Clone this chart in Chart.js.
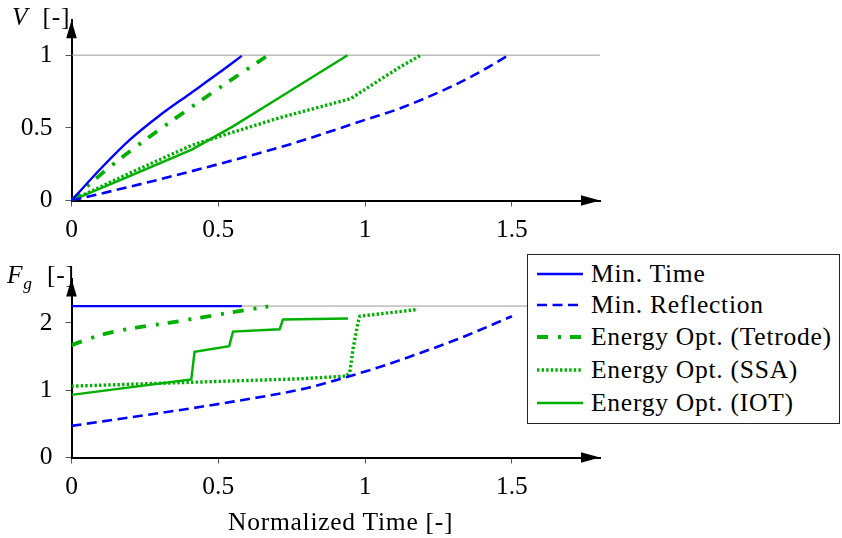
<!DOCTYPE html>
<html lang="en">
  <head>
    <meta charset="UTF-8" />
    <title>Normalized Time - V and Fg</title>
    <script src="https://cdn.jsdelivr.net/npm/chart.js"></script>
    <style>
      html, body { margin: 0; padding: 0; background: #fff; }
      body { width: 842px; height: 538px; position: relative; overflow: hidden; color: #000; }
      canvas { position: absolute; left: 0; }
      #topChart { top: -8px; }
      #bottomChart { top: 250px; }
      .label { position: absolute; line-height: 1; white-space: nowrap; letter-spacing: 0.75px; }
      #legend { position: absolute; left: 527px; top: 254px; width: 311px; height: 168px; border: 1px solid #222; background: #fff; }
      .row { position: absolute; left: 0; height: 32px; display: flex; align-items: center; letter-spacing: 0.75px; white-space: nowrap; }
      .row svg { margin-left: 9px; margin-right: 8px; flex: none; }
    </style>
  </head>
  <body>
    <canvas id="topChart" width="842" height="258"></canvas>
    <canvas id="bottomChart" width="842" height="288"></canvas>

    <div class="label" style="left:12px; top:4px;"><i>V</i>&nbsp;&nbsp;[-]</div>
    <div class="label" style="left:7px; top:262px;"><i>F<sub style="font-size:0.68em;">g</sub></i>&nbsp;&nbsp;[-]</div>
    <div class="label" id="xTitle" style="left:228px; top:509px;">Normalized Time [-]</div>

    <div id="legend"></div>

    <script>
      // x ticks shared by both panels
      const timeTicks = [0, 0.5, 1, 1.5];
      const vTicks = [0, 0.5, 1];
      const fgTicks = [0, 1, 2];

      // reference lines (grey)
      const limitTime = [0, 1.8];
      const vLimit = [1, 1];
      const fgLimit = [2.25, 2.25];

      // V [-]
      const vMinTimeT = [0, 0.1, 0.2, 0.3, 0.4, 0.5, 0.58];
      const vMinTime = [0, 0.22, 0.42, 0.585, 0.73, 0.875, 0.995];
      const vMinReflT = [0, 0.25, 0.5, 0.75, 1.0, 1.1, 1.2, 1.3, 1.4, 1.48];
      const vMinRefl = [0, 0.12, 0.25, 0.39, 0.555, 0.62, 0.7, 0.79, 0.895, 0.99];
      const vTetrodeT = [0, 0.1, 0.2, 0.35, 0.5, 0.67];
      const vTetrode = [0, 0.18, 0.34, 0.56, 0.77, 1.0];
      const vSsaT = [0, 0.2, 0.41, 0.55, 0.71, 0.95, 1.05, 1.12, 1.19];
      const vSsa = [0, 0.19, 0.38, 0.47, 0.57, 0.7, 0.83, 0.92, 1.0];
      const vIotT = [0, 0.2, 0.41, 0.55, 0.71, 0.94];
      const vIot = [0, 0.17, 0.35, 0.51, 0.71, 1.0];

      // F_g [-]
      const fgMinTimeT = [0, 0.58];
      const fgMinTime = [2.25, 2.25];
      const fgMinReflT = [0, 0.33, 0.55, 0.8, 0.925, 1.06, 1.23, 1.35, 1.5];
      const fgMinRefl = [0.47, 0.68, 0.83, 1.03, 1.18, 1.36, 1.62, 1.82, 2.1];
      const fgTetrodeT = [0, 0.1, 0.22, 0.33, 0.44, 0.55, 0.67];
      const fgTetrode = [1.67, 1.82, 1.93, 2.0, 2.08, 2.16, 2.245];
      const fgSsaT = [0, 0.78, 0.937, 0.948, 0.959, 0.976, 0.982, 1.18];
      const fgSsa = [1.06, 1.17, 1.21, 1.27, 1.62, 2.01, 2.1, 2.2];
      const fgIotT = [0, 0.408, 0.419, 0.537, 0.55, 0.709, 0.72, 0.942];
      const fgIot = [0.93, 1.16, 1.57, 1.655, 1.87, 1.905, 2.05, 2.065];

      const BLUE = "#0000ff";
      const GREEN = "#00b000";

      const styles = [
        { label: "Min. Time", color: BLUE, width: 2.4, dash: [], smooth: true },
        { label: "Min. Reflection", color: BLUE, width: 2.6, dash: [10, 5.5], smooth: true },
        { label: "Energy Opt. (Tetrode)", color: GREEN, width: 3.8, dash: [11, 10, 3, 9], smooth: true },
        { label: "Energy Opt. (SSA)", color: GREEN, width: 3.4, dash: [2.4, 2.2], smooth: false },
        { label: "Energy Opt. (IOT)", color: GREEN, width: 2.4, dash: [], smooth: false },
      ];

      // pick a serif face that is really installed, and size it like the original
      function pickFont() {
        const c = document.createElement("canvas").getContext("2d");
        const probe = "Energy Opt. (Tetrode)";
        const faces = ["Liberation Serif", "Times New Roman", "Tinos", "DejaVu Serif"];
        for (const f of faces) {
          c.font = "25px monospace";
          const a = c.measureText(probe).width;
          c.font = "25px '" + f + "', monospace";
          const b = c.measureText(probe).width;
          if (Math.abs(a - b) > 0.5) return { family: "'" + f + "', serif", size: Math.round((25 * 223) / b * 2) / 2 };
        }
        return { family: "serif", size: 24 };
      }
      const font = pickFont();
      document.body.style.fontFamily = font.family;
      document.body.style.fontSize = font.size + "px";

      const pts = (t, v) => t.map((x, i) => ({ x: x, y: v[i] }));

      function buildSets(series, limit) {
        const sets = series.map((s, i) => ({
          label: styles[i].label,
          data: pts(s[0], s[1]),
          borderColor: styles[i].color,
          borderWidth: styles[i].width,
          borderDash: styles[i].dash,
          borderCapStyle: "butt",
          cubicInterpolationMode: styles[i].smooth ? "monotone" : "default",
          pointRadius: 0,
          tension: 0,
          fill: false,
        }));
        // grey limit line last so it is drawn underneath
        sets.push({ label: "limit", data: pts(limitTime, limit), borderColor: "#9a9a9a", borderWidth: 1, pointRadius: 0 });
        return sets;
      }

      // arrow heads at the ends of both axes
      const axisArrows = {
        id: "axisArrows",
        afterDraw(chart) {
          const { ctx, chartArea } = chart;
          ctx.save();
          ctx.fillStyle = "#000";
          ctx.beginPath();
          ctx.moveTo(chartArea.right, chartArea.bottom);
          ctx.lineTo(chartArea.right - 19, chartArea.bottom - 5.3);
          ctx.lineTo(chartArea.right - 19, chartArea.bottom + 5.3);
          ctx.closePath();
          ctx.fill();
          ctx.beginPath();
          ctx.moveTo(chartArea.left, chartArea.top);
          ctx.lineTo(chartArea.left - 5.3, chartArea.top + 18);
          ctx.lineTo(chartArea.left + 5.3, chartArea.top + 18);
          ctx.closePath();
          ctx.fill();
          ctx.restore();
        },
      };

      Chart.defaults.font.family = font.family;
      Chart.defaults.font.size = font.size;
      Chart.defaults.color = "#000";

      function makeChart(id, datasets, yMax, yTicks, padTop, xHeight) {
        const tickGrid = { drawOnChartArea: false, drawTicks: true, tickLength: 6, color: "#555", lineWidth: 1 };
        return new Chart(document.getElementById(id), {
          type: "line",
          data: { datasets: datasets },
          options: {
            responsive: false,
            animation: false,
            layout: { padding: { left: 0, right: 242, top: padTop, bottom: 0 } },
            plugins: { legend: { display: false }, tooltip: { enabled: false } },
            scales: {
              x: {
                type: "linear",
                min: 0,
                max: 1.8,
                afterBuildTicks: (s) => {
                  s.ticks = timeTicks.map((v) => ({ value: v }));
                  s.min = 0;
                  s.max = 1.8;
                },
                afterFit: (s) => { s.height = xHeight; },
                ticks: { padding: 8, maxRotation: 0, autoSkip: false, callback: (v) => String(v) },
                grid: tickGrid,
                border: { display: true, color: "#000", width: 2 },
              },
              y: {
                min: 0,
                max: yMax,
                afterBuildTicks: (s) => {
                  s.ticks = yTicks.map((v) => ({ value: v }));
                  s.min = 0;
                  s.max = yMax;
                },
                afterFit: (s) => { s.width = 71.5; },
                ticks: { padding: 13, callback: (v) => String(v) },
                grid: tickGrid,
                border: { display: true, color: "#000", width: 2 },
              },
            },
          },
          plugins: [axisArrows],
        });
      }

      // top canvas sits 8px above the page edge, so its chart area starts at page y ~19.5
      makeChart(
        "topChart",
        buildSets([[vMinTimeT, vMinTime], [vMinReflT, vMinRefl], [vTetrodeT, vTetrode], [vSsaT, vSsa], [vIotT, vIot]], vLimit),
        1.24, vTicks, 27.5, 49.5
      );
      makeChart(
        "bottomChart",
        buildSets([[fgMinTimeT, fgMinTime], [fgMinReflT, fgMinRefl], [fgTetrodeT, fgTetrode], [fgSsaT, fgSsa], [fgIotT, fgIot]], fgLimit),
        2.66, fgTicks, 28.5, 80.5
      );

      // legend box
      const legend = document.getElementById("legend");
      const rowCenters = [19, 50, 82, 115, 148];
      styles.forEach((s, i) => {
        const row = document.createElement("div");
        row.className = "row";
        row.style.top = rowCenters[i] - 16 + "px";
        row.innerHTML =
          '<svg width="46" height="10"><line x1="0" y1="5" x2="46" y2="5" stroke="' + s.color +
          '" stroke-width="' + s.width + '" stroke-dasharray="' + (s.dash.length ? s.dash.join(",") : "none") +
          '"/></svg><span>' + s.label + "</span>";
        legend.appendChild(row);
      });
    </script>
  </body>
</html>
